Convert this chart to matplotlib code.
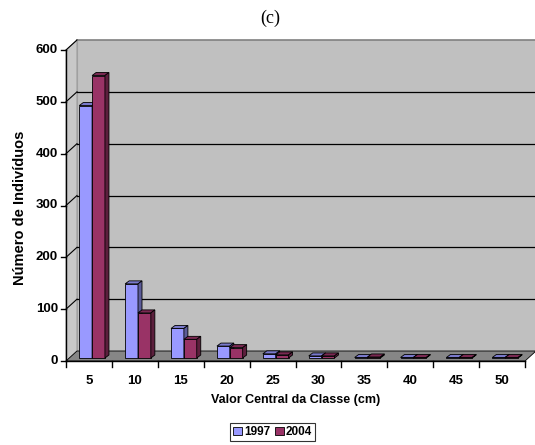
import matplotlib.pyplot as plt
from matplotlib.patches import Polygon, Rectangle
import matplotlib.transforms as mtransforms

# Size classes (centre of class, cm) and number of individuals per year
classes = ["5", "10", "15", "20", "25", "30", "35", "40", "45", "50"]
n_1997 = [487, 143, 57, 23, 8, 4, 1, 1, 1, 1]
n_2004 = [545, 87, 36, 20, 6, 4, 2, 1, 1, 1]
y_ticks = [0, 100, 200, 300, 400, 500, 600]

plt.rcParams['font.family'] = ['Liberation Sans', 'DejaVu Sans']

fig = plt.figure(figsize=(5.35, 4.45), dpi=100)
ax = fig.add_axes([66 / 535, 84 / 445, 459 / 535, 311 / 445])
ax.set_xlim(0, len(classes))
ax.set_ylim(0, 600)
ax.axis('off')

# pseudo-3D depth, in pixels
WALL_DX, WALL_DY = 11, 10
BAR_SHIFT_X, BAR_SHIFT_Y = 2, 3
BAR_DX, BAR_DY = 4, 3

back = mtransforms.offset_copy(ax.transData, fig, x=WALL_DX, y=WALL_DY, units='dots')
bar_front = mtransforms.offset_copy(ax.transData, fig, x=BAR_SHIFT_X, y=BAR_SHIFT_Y, units='dots')
bar_back = mtransforms.offset_copy(ax.transData, fig, x=BAR_SHIFT_X + BAR_DX,
                                   y=BAR_SHIFT_Y + BAR_DY, units='dots')

ncat = len(classes)

# back wall
ax.add_patch(Rectangle((0, 0), ncat, 600, transform=back, facecolor='#c0c0c0',
                       edgecolor='none', clip_on=False, zorder=1))
ax.plot([0, ncat], [600, 600], transform=back, color='#808080', lw=1.2,
        clip_on=False, zorder=2)
ax.plot([0, 0], [0, 600], transform=back, color='#a0a0a0', lw=0.8,
        clip_on=False, zorder=2)


def skew_poly(pts_front, pts_back, **kw):
    # polygon whose corners live in two different transforms (front plane / back plane)
    disp = [ax.transData.transform(p) for p in pts_front] + \
           [back.transform(p) for p in pts_back]
    return Polygon(disp, closed=True, transform=None, clip_on=False, **kw)


# left side wall
ax.add_patch(skew_poly([(0, 0), (0, 600)], [(0, 600), (0, 0)],
                       facecolor='#c8c8c8', edgecolor='#909090', lw=0.6, zorder=1))

# gridlines: across the back wall and down the side wall
for v in y_ticks[1:-1]:
    ax.plot([0, ncat], [v, v], transform=back, color='black', lw=0.9,
            clip_on=False, zorder=2)
for v in y_ticks[1:]:
    p0 = ax.transData.transform((0, v))
    p1 = back.transform((0, v))
    ax.plot([p0[0], p1[0]], [p0[1], p1[1]], transform=None, color='black',
            lw=0.8, clip_on=False, zorder=2)

# floor
ax.add_patch(skew_poly([(0, 0), (ncat, 0)], [(ncat, 0), (0, 0)],
                       facecolor='#868686', edgecolor='black', lw=0.6, zorder=3))


def bar3d(x0, w, h, face, top, side):
    ax.bar([x0], [h], width=w, align='edge', color=face, edgecolor='black',
           linewidth=0.6, transform=bar_front, clip_on=False, zorder=4)
    f0 = bar_front.transform((x0, h))
    f1 = bar_front.transform((x0 + w, h))
    f2 = bar_front.transform((x0 + w, 0))
    b0 = bar_back.transform((x0, h))
    b1 = bar_back.transform((x0 + w, h))
    b2 = bar_back.transform((x0 + w, 0))
    ax.add_patch(Polygon([f0, f1, b1, b0], closed=True, transform=None,
                         facecolor=top, edgecolor='black', lw=0.6,
                         clip_on=False, zorder=4))
    ax.add_patch(Polygon([f1, f2, b2, b1], closed=True, transform=None,
                         facecolor=side, edgecolor='black', lw=0.6,
                         clip_on=False, zorder=4))


bw = 0.28
for i in range(ncat):
    bar3d(i + 0.245, bw, n_1997[i], '#9999ff', '#7a7acc', '#5c5c99')
    bar3d(i + 0.245 + bw, bw, n_2004[i], '#993366', '#7a2952', '#5c1f3d')

# value axis
ax.plot([0, 0], [600, 0], color='black', lw=1, clip_on=False, zorder=5)
for v in y_ticks:
    p = ax.transData.transform((0, v))
    ax.plot([p[0] - 5, p[0]], [p[1], p[1]], transform=None, color='black',
            lw=1, clip_on=False, zorder=5)
    ax.text(p[0] - 8, p[1], str(v), transform=None, ha='right', va='center',
            fontsize=9.5, fontweight='bold')

# category axis
ax.plot([0, ncat], [0, 0], color='black', lw=1, clip_on=False, zorder=5)
for i in range(ncat + 1):
    p = ax.transData.transform((i, 0))
    ax.plot([p[0], p[0]], [p[1], p[1] - 6], transform=None, color='black',
            lw=1, clip_on=False, zorder=5)
for i, lab in enumerate(classes):
    ax.annotate(lab, (i + 0.5, 0), xytext=(0, -20), textcoords='offset pixels',
                ha='center', va='center', fontsize=9.5, fontweight='bold')

fig.text(295.5 / 535, 1 - 400 / 445, "Valor Central da Classe (cm)", ha='center',
         va='center', fontsize=9, fontweight='bold')
fig.text(20 / 535, 1 - 208 / 445, "Número de Indivíduos", ha='center', va='center',
         rotation=90, fontsize=10.5, fontweight='bold')
fig.text(270 / 535, 1 - 18 / 445, "(c)", ha='center', va='center', fontsize=13,
         family=['Liberation Serif', 'DejaVu Serif'])

# legend
leg = fig.legend(handles=[Rectangle((0, 0), 1, 1, facecolor='#9999ff', edgecolor='black', lw=0.6),
                          Rectangle((0, 0), 1, 1, facecolor='#993366', edgecolor='black', lw=0.6)],
                 labels=["1997", "2004"], loc='center', bbox_to_anchor=(272.5 / 535, 1 - 432 / 445),
                 ncol=2, prop={'weight': 'bold', 'size': 8.5}, frameon=True,
                 fancybox=False, handlelength=0.75, handleheight=0.75, handletextpad=0.2,
                 columnspacing=0.4, borderpad=0.25, borderaxespad=0)
leg.get_frame().set_edgecolor('black')
leg.get_frame().set_linewidth(0.8)

fig.savefig("out.png", dpi=100)
